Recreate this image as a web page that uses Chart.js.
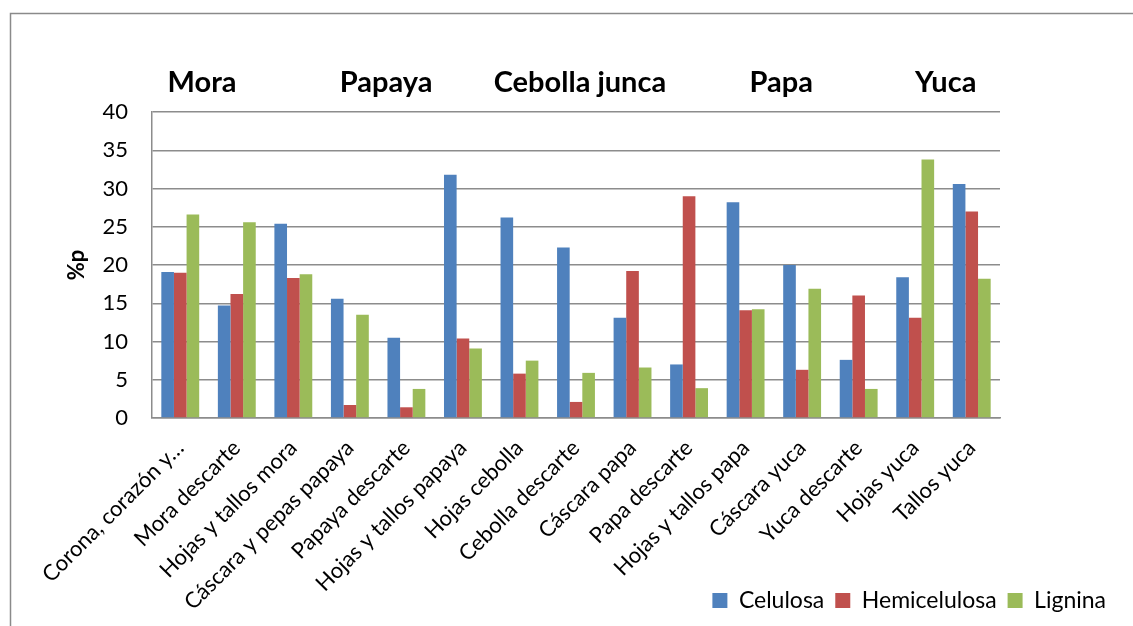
<!DOCTYPE html>
<html>
<head>
<meta charset="utf-8">
<script src="https://cdn.jsdelivr.net/npm/chart.js@4"></script>
<style>
html,body{margin:0;padding:0;background:#fff;}
#wrap{width:1133px;height:626px;position:relative;}
</style>
</head>
<body>
<div id="wrap"><canvas id="c" width="1133" height="626"></canvas></div>
<script>
const categories = ["Corona, corazón y…","Mora descarte","Hojas y tallos mora","Cáscara y pepas papaya","Papaya descarte","Hojas y tallos papaya","Hojas cebolla","Cebolla descarte","Cáscara papa","Papa descarte","Hojas y tallos papa","Cáscara yuca","Yuca descarte","Hojas yuca","Tallos yuca"];
const celulosa = [19.1,14.7,25.4,15.6,10.5,31.8,26.2,22.3,13.1,7.0,28.2,20.0,7.6,18.4,30.6];
const hemicelulosa = [19.0,16.2,18.3,1.7,1.4,10.4,5.8,2.1,19.2,29.0,14.1,6.3,16.0,13.1,27.0];
const lignina = [26.6,25.6,18.8,13.5,3.8,9.1,7.5,5.9,6.6,3.9,14.2,16.9,3.8,33.8,18.2];
const groupLabels = ["Mora","Papaya","Cebolla junca","Papa","Yuca"];
const groupAnchors = [0.385,3.64,7.07,10.63,13.54];
const yTicks = [0,5,10,15,20,25,30,35,40];

const FONT = "Lato, 'Open Sans', sans-serif";

const framePlugin = {
  id:'frame',
  beforeDraw(chart){
    const ctx = chart.ctx;
    ctx.save();
    ctx.fillStyle='#fff';
    ctx.fillRect(0,0,chart.width,chart.height);
    ctx.strokeStyle='#8a8a8a';
    ctx.lineWidth=1.5;
    ctx.beginPath();
    ctx.moveTo(10.5,chart.height);
    ctx.lineTo(10.5,13.5);
    ctx.lineTo(chart.width,13.5);
    ctx.stroke();
    ctx.restore();
  }
};
const groupPlugin = {
  id:'groups',
  afterDraw(chart){
    const ctx = chart.ctx, xs = chart.scales.x;
    ctx.save();
    ctx.font = "bold 29px " + FONT;
    ctx.fillStyle = '#000';
    ctx.textAlign='center';
    ctx.textBaseline='middle';
    groupLabels.forEach((g,i)=>{
      ctx.fillText(g, xs.getPixelForValue(groupAnchors[i]), chart.chartArea.top-29);
    });
    ctx.restore();
  }
};

new Chart(document.getElementById('c'),{
  type:'bar',
  data:{
    labels:categories,
    datasets:[
      {label:'Celulosa',data:celulosa,backgroundColor:'#4F81BD'},
      {label:'Hemicelulosa',data:hemicelulosa,backgroundColor:'#C0504D'},
      {label:'Lignina',data:lignina,backgroundColor:'#9BBB59'}
    ]
  },
  options:{
    responsive:false,
    animation:false,
    devicePixelRatio:1,
    layout:{padding:{top:112,right:16,left:0,bottom:4}},
    datasets:{bar:{categoryPercentage:0.67,barPercentage:1.0}},
    plugins:{
      legend:{
        position:'bottom',align:'end',
        labels:{boxWidth:15,boxHeight:15,padding:11,color:'#000',font:{family:FONT,size:23}}
      },
      tooltip:{enabled:false}
    },
    scales:{
      y:{
        position:'left',
        min:0,max:40,
        afterBuildTicks(s){ s.ticks = yTicks.map(v=>({value:v})); },
        afterFit(s){ s.width = 152; },
        ticks:{color:'#000',padding:24,font:{family:FONT,size:22}},
        grid:{color:'#8c8c8c',lineWidth:1.5,drawTicks:false},
        border:{color:'#8c8c8c',width:1.5},
        title:{display:true,text:'%p',color:'#000',font:{family:FONT,size:22,weight:'bold'},padding:{top:64,bottom:0}}
      },
      yPad:{
        position:'right',
        display:true,
        min:0,max:40,
        afterFit(s){ s.width = 117; },
        ticks:{display:false},
        grid:{display:false,drawTicks:false},
        border:{display:false}
      },
      x:{
        afterFit(s){ s.height = 160; s._computeLabelArea = function(){ return undefined; }; },
        ticks:{color:'#000',padding:17,maxRotation:45,minRotation:45,autoSkip:false,font:{family:FONT,size:22}},
        grid:{display:false,drawTicks:false},
        border:{color:'#8c8c8c',width:1.5}
      }
    }
  },
  plugins:[framePlugin,groupPlugin]
});
</script>
</body>
</html>
